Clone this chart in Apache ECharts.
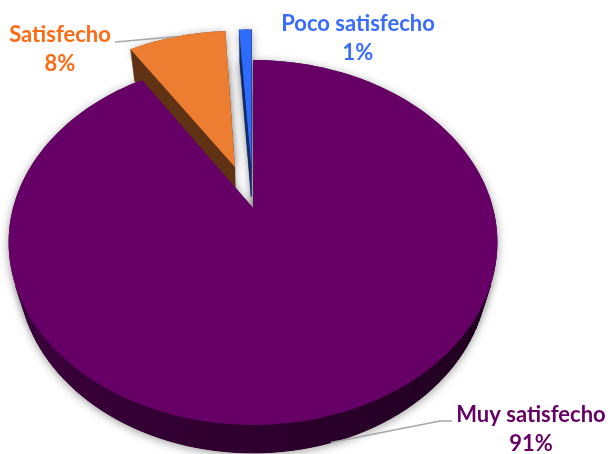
<!DOCTYPE html>
<html>
<head>
<meta charset="utf-8">
<script src="https://cdn.jsdelivr.net/npm/echarts@6/dist/echarts.min.js"></script>
<style>
  html, body { margin: 0; padding: 0; background: #ffffff; }
  #chart { width: 610px; height: 454px; }
</style>
</head>
<body>
<div id="chart"></div>
<script>
// Survey answers and their shares (percent)
const categories = ['Muy satisfecho', 'Satisfecho', 'Poco satisfecho'];
const percentages = [91, 8, 1];

// Appearance
const sliceColors = ['#660066', '#ED7D31', '#2E6BFF'];
const labelColors = ['#660066', '#FF6A13', '#3A6BFF'];
const explodeBy = [0, 0.256, 0.256];

// Perspective camera for the tilted pie (unit radius in world space)
const view = { cx: 253, cy: 208, focal: 864, dist: 3.6, sinA: 0.733, cosA: 0.68, height: 0.2 };

// Label placement (centre of the two-line block) and leader-line elbows
const labelCenters = [[531, 429], [60, 49], [358, 38]];
const leaderElbows = [[[452, 421], [440, 421]], [[115, 42], [127, 41]], null];
const leaderOnBase = [true, false, false];

const total = percentages.reduce((a, b) => a + b, 0);
const startAngles = [];
(function () {
  let acc = 0;
  percentages.forEach(v => { startAngles.push(acc / total * 2 * Math.PI); acc += v; });
})();

function project(X, Y, Z) {
  const v = Z * view.sinA - Y * view.cosA;
  const w = view.dist - Z * view.cosA - Y * view.sinA;
  return [view.cx + view.focal * X / w, view.cy + view.focal * v / w];
}
const camera = [0, view.dist * view.sinA, view.dist * view.cosA];

function shade(hex, f) {
  const n = parseInt(hex.slice(1), 16);
  const r = Math.round(((n >> 16) & 255) * f);
  const g = Math.round(((n >> 8) & 255) * f);
  const b = Math.round((n & 255) * f);
  return 'rgb(' + r + ',' + g + ',' + b + ')';
}

function facesCamera(n, p) {
  return n[0] * (camera[0] - p[0]) + n[1] * (camera[1] - p[1]) + n[2] * (camera[2] - p[2]) > 0;
}

function renderItem(params, api) {
  const i = params.dataIndex;
  const value = api.value(0);
  const color = sliceColors[i];
  const a0 = startAngles[i];
  const a1 = a0 + value / total * 2 * Math.PI;
  const am = (a0 + a1) / 2;
  const ox = explodeBy[i] * Math.sin(am);
  const oz = -explodeBy[i] * Math.cos(am);
  const H = view.height;

  const steps = Math.max(2, Math.ceil((a1 - a0) / (Math.PI / 90)));
  const angs = [];
  for (let k = 0; k <= steps; k++) angs.push(a0 + (a1 - a0) * k / steps);
  const rim = (t, Y) => project(ox + Math.sin(t), Y, oz - Math.cos(t));

  const apexTop = project(ox, 0, oz);
  const apexBot = project(ox, -H, oz);
  const topPts = [apexTop].concat(angs.map(t => rim(t, 0)));
  const botPts = [apexBot].concat(angs.map(t => rim(t, -H)));

  const centroidZ = oz - 0.5 * Math.cos(am);
  const base = Math.round((centroidZ + 2) * 100);
  const children = [];

  // soft drop shadow under the slice
  const shadowStyle = {
    fill: shade(color, 0.45),
    shadowBlur: 10, shadowColor: 'rgba(0,0,0,0.4)', shadowOffsetX: 0, shadowOffsetY: 2
  };
  children.push({ type: 'polygon', z2: 1, shape: { points: botPts }, style: shadowStyle });
  children.push({ type: 'polygon', z2: 1, shape: { points: topPts }, style: shadowStyle });

  // outer curved side
  for (let k = 0; k < steps; k++) {
    const tm = (angs[k] + angs[k + 1]) / 2;
    const n = [Math.sin(tm), 0, -Math.cos(tm)];
    const p = [ox + Math.sin(tm), -H / 2, oz - Math.cos(tm)];
    if (!facesCamera(n, p)) continue;
    const c = shade(color, 0.45 - 0.15 * Math.sin(tm));
    children.push({
      type: 'polygon', z2: base + 1,
      shape: { points: [rim(angs[k], 0), rim(angs[k + 1], 0), rim(angs[k + 1], -H), rim(angs[k], -H)] },
      style: { fill: c, stroke: c, lineWidth: 1 }
    });
  }

  // radial walls
  const walls = [
    { t: a0, n: [-Math.cos(a0), 0, -Math.sin(a0)] },
    { t: a1, n: [Math.cos(a1), 0, Math.sin(a1)] }
  ];
  walls.forEach(wl => {
    const p = [ox + 0.5 * Math.sin(wl.t), -H / 2, oz - 0.5 * Math.cos(wl.t)];
    if (!facesCamera(wl.n, p)) return;
    const c = shade(color, 0.4);
    children.push({
      type: 'polygon', z2: base + 1,
      shape: { points: [apexTop, rim(wl.t, 0), rim(wl.t, -H), apexBot] },
      style: { fill: c, stroke: c, lineWidth: 0.5 }
    });
  });

  // top face
  children.push({ type: 'polygon', z2: base + 2, shape: { points: topPts }, style: { fill: color } });

  // leader line
  if (leaderElbows[i]) {
    const anchor = rim(am, leaderOnBase[i] ? -H : 0);
    children.push({
      type: 'polyline', z2: 900,
      shape: { points: leaderElbows[i].concat([anchor]) },
      style: { stroke: '#A6A6A6', lineWidth: 1.5, fill: null }
    });
  }

  // label
  children.push({
    type: 'text', z2: 1000,
    style: {
      text: categories[i] + '\n' + value + '%',
      x: labelCenters[i][0], y: labelCenters[i][1],
      align: 'center', verticalAlign: 'middle',
      fill: labelColors[i],
      fontFamily: 'Lato', fontWeight: 'bold', fontSize: 22, lineHeight: 29
    }
  });

  return { type: 'group', children: children };
}

const chart = echarts.init(document.getElementById('chart'), null, { renderer: 'canvas' });
chart.setOption({
  animation: false,
  backgroundColor: '#ffffff',
  series: [{
    type: 'custom',
    coordinateSystem: 'none',
    renderItem: renderItem,
    data: percentages.map((v, i) => ({ name: categories[i], value: [v] }))
  }]
});
</script>
</body>
</html>
